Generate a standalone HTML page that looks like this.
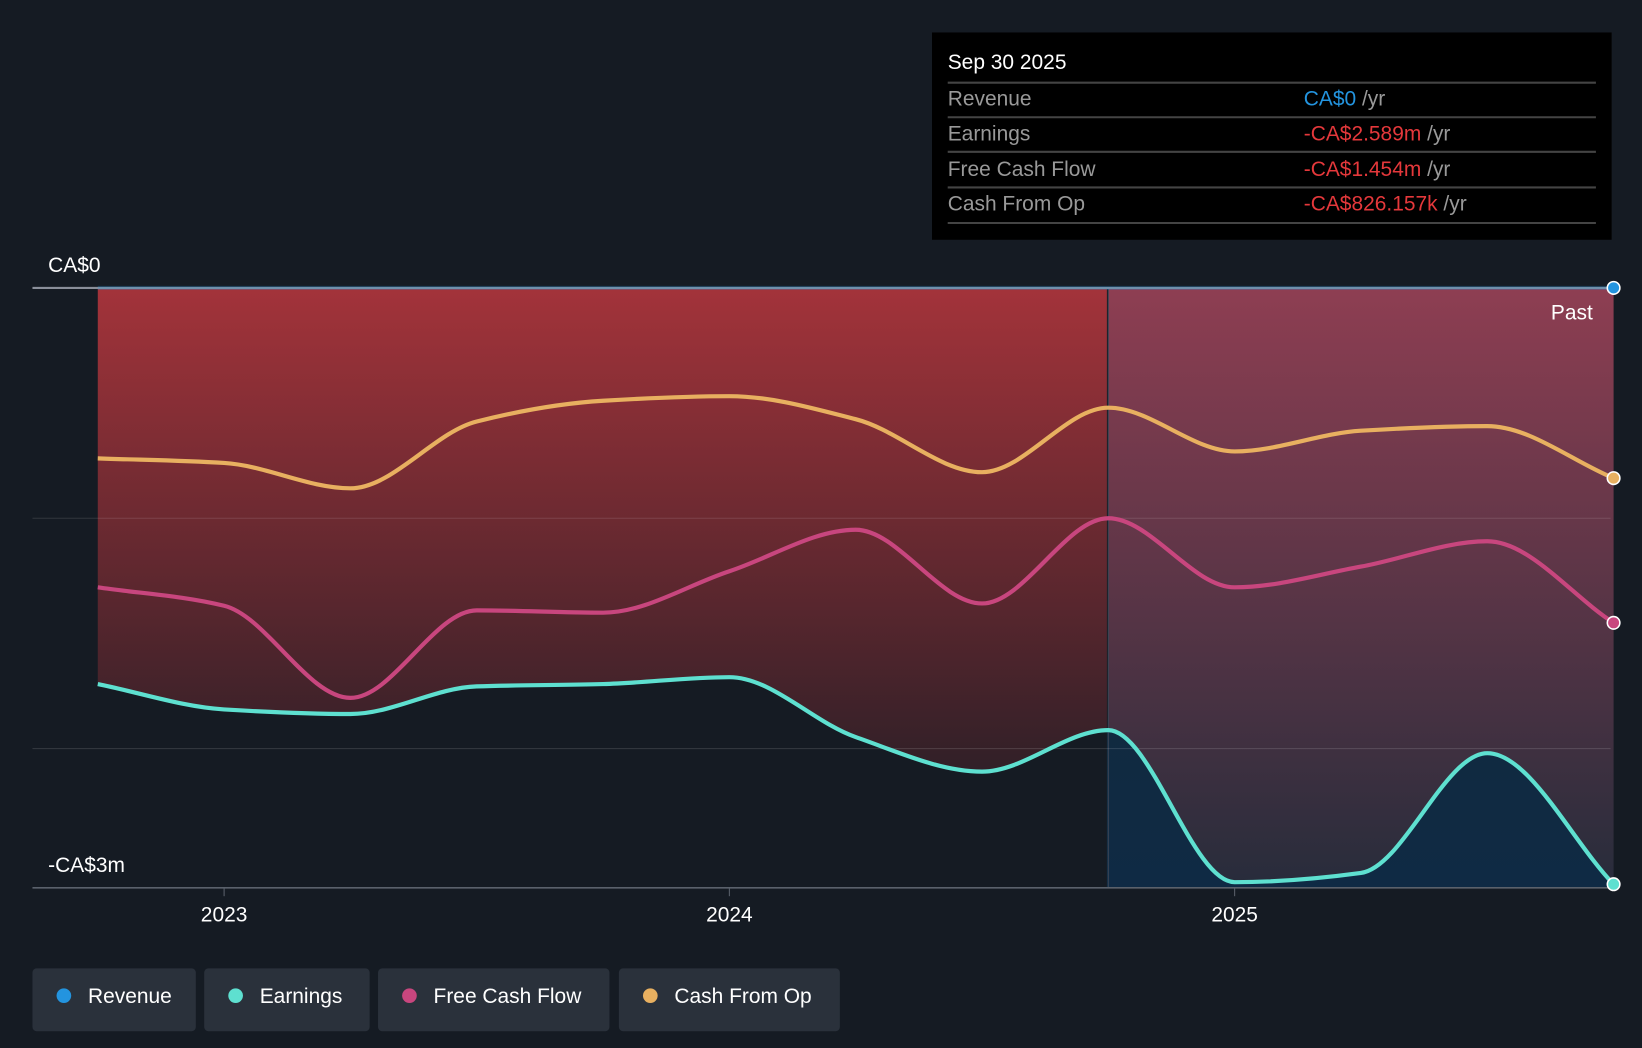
<!DOCTYPE html>
<html><head><meta charset="utf-8"><style>
html,body{margin:0;padding:0;background:#151b23;width:1642px;height:1048px;overflow:hidden}
svg{display:block;font-family:"Liberation Sans",sans-serif}
</style></head><body>
<svg id="chart" width="1642" height="1048" viewBox="0 0 1568 1001" preserveAspectRatio="none">
<defs>
<linearGradient id="redg" gradientUnits="userSpaceOnUse" x1="0" y1="275" x2="0" y2="848">
<stop offset="0" stop-color="#a3333a" stop-opacity="1"/>
<stop offset="1" stop-color="#a3333a" stop-opacity="0.0"/>
</linearGradient>
<linearGradient id="purg" gradientUnits="userSpaceOnUse" x1="0" y1="275" x2="0" y2="848">
<stop offset="0" stop-color="#8e3e52" stop-opacity="1"/>
<stop offset="1" stop-color="#272c3b" stop-opacity="1"/>
</linearGradient>
<linearGradient id="blueg" gradientUnits="userSpaceOnUse" x1="0" y1="690" x2="0" y2="848">
<stop offset="0" stop-color="#112a40" stop-opacity="1"/>
<stop offset="1" stop-color="#0f2a44" stop-opacity="1"/>
</linearGradient>
<clipPath id="leftclip"><rect x="0" y="270" width="1057" height="580"/></clipPath>
<clipPath id="pastclip"><rect x="1057" y="270" width="480" height="580"/></clipPath>
</defs>
<rect x="0" y="0" width="1568" height="1001" fill="#151b23"/>
<g id="plot"></g>
<g id="tooltip">
<rect x="890" y="31" width="649" height="198" fill="#000"/>
<text x="905" y="66" fill="#fff" font-size="20">Sep 30 2025</text>
<line x1="905" y1="79" x2="1524" y2="79" stroke="#444" stroke-width="2"/>
<text x="905" y="101" fill="#999" font-size="20">Revenue</text>
<text x="1245" y="101" font-size="20"><tspan fill="#2394df">CA$0</tspan><tspan fill="#999"> /yr</tspan></text>
<line x1="905" y1="112" x2="1524" y2="112" stroke="#444" stroke-width="2"/>
<text x="905" y="134" fill="#999" font-size="20">Earnings</text>
<text x="1245" y="134" font-size="20"><tspan fill="#e5383b">-CA$2.589m</tspan><tspan fill="#999"> /yr</tspan></text>
<line x1="905" y1="145" x2="1524" y2="145" stroke="#444" stroke-width="2"/>
<text x="905" y="168" fill="#999" font-size="20">Free Cash Flow</text>
<text x="1245" y="168" font-size="20"><tspan fill="#e5383b">-CA$1.454m</tspan><tspan fill="#999"> /yr</tspan></text>
<line x1="905" y1="179" x2="1524" y2="179" stroke="#444" stroke-width="2"/>
<text x="905" y="201" fill="#999" font-size="20">Cash From Op</text>
<text x="1245" y="201" font-size="20"><tspan fill="#e5383b">-CA$826.157k</tspan><tspan fill="#999"> /yr</tspan></text>
<line x1="905" y1="213" x2="1524" y2="213" stroke="#444" stroke-width="2"/>
</g>
<g id="legend"></g>
</svg>
<script>
const dates=[2022.75,2023.0,2023.25,2023.5,2023.75,2024.0,2024.25,2024.5,2024.75,2025.0,2025.25,2025.5,2025.75];
const revenue=[0,0,0,0,0,0,0,0,0,0,0,0,0];
const earnings=[-1.72,-1.83,-1.85,-1.73,-1.72,-1.69,-1.95,-2.10,-1.92,-2.58,-2.54,-2.02,-2.589];
const fcf=[-1.30,-1.38,-1.78,-1.40,-1.41,-1.23,-1.05,-1.37,-1.00,-1.30,-1.21,-1.10,-1.454];
const cfo=[-0.74,-0.76,-0.87,-0.58,-0.49,-0.47,-0.57,-0.80,-0.52,-0.71,-0.62,-0.60,-0.826];
const yTicks=[0,-1,-2];
const xTicks=[2023,2024,2025];
const pastStart=2024.75;

const NS="http://www.w3.org/2000/svg";
const X=d=>214+(d-2023)*482.5;
const Y=v=>275-v*220;
const plot=document.getElementById('plot');
function mk(tag,attrs,parent){const e=document.createElementNS(NS,tag);for(const k in attrs)e.setAttribute(k,attrs[k]);(parent||plot).appendChild(e);return e;}
function path(vals){
  const p=dates.map((d,i)=>[X(d),Y(vals[i])]);
  const n=p.length,dx=[],sl=[],m=[];
  for(let i=0;i<n-1;i++){dx[i]=p[i+1][0]-p[i][0];sl[i]=(p[i+1][1]-p[i][1])/dx[i];}
  m[0]=sl[0];m[n-1]=sl[n-2];
  for(let i=1;i<n-1;i++){m[i]=(sl[i-1]*sl[i]<=0)?0:3*(dx[i-1]+dx[i])/((2*dx[i]+dx[i-1])/sl[i-1]+(dx[i]+2*dx[i-1])/sl[i]);}
  let s=`M${p[0][0]},${p[0][1]}`;
  for(let i=0;i<n-1;i++){const h=dx[i]/3;
    s+=` C${p[i][0]+h},${p[i][1]+m[i]*h} ${p[i+1][0]-h},${p[i+1][1]-m[i+1]*h} ${p[i+1][0]},${p[i+1][1]}`;}
  return s;
}
const x0=X(dates[0]),x1=X(dates[dates.length-1]);
const ep=path(earnings);
const area=mk('path',{d:ep+` L${x1},${Y(0)} L${x0},${Y(0)} Z`,fill:'url(#redg)','clip-path':'url(#leftclip)'});


const area2=mk('path',{d:`M${X(pastStart)},${Y(0)} L${x1},${Y(0)} L${x1},848 L${X(pastStart)},848 Z`,fill:'url(#purg)'});


const ba=mk('path',{d:ep+` L${x1},848 L${x0},848 Z`,fill:'url(#blueg)','clip-path':'url(#pastclip)'});


mk('line',{x1:X(pastStart),y1:Y(0),x2:X(pastStart),y2:848,stroke:'#3a4555','stroke-width':1});
const pt=mk('text',{x:1521,y:305,fill:'#fff','font-size':20,'text-anchor':'end'});pt.textContent='Past';


yTicks.forEach(v=>{const g=mk('line',{x1:31,x2:1538,y1:Y(v),y2:Y(v),stroke:v===0?'#8a8f9a':'#ffffff','stroke-opacity':v===0?1:0.12,'stroke-width':v===0?2:1});

});
mk('line',{x1:31,x2:1538,y1:848,y2:848,stroke:'#5a616b','stroke-width':1.5});
const yl0=mk('text',{x:46,y:260,fill:'#fff','font-size':20});yl0.textContent='CA$0';


const yl1=mk('text',{x:46,y:833,fill:'#fff','font-size':20});yl1.textContent='-CA$3m';


xTicks.forEach(t=>{mk('line',{x1:X(t),x2:X(t),y1:848,y2:856,stroke:'#5a616b'});
const tx=mk('text',{x:X(t),y:880,fill:'#fff','font-size':20,'text-anchor':'middle'});tx.textContent=t;

});
const series=[['revenue-line',revenue,'#2394df',0.25],['cash-from-op-line',cfo,'#e8b060',1],['free-cash-flow-line',fcf,'#c8467e',1],['earnings-line',earnings,'#5ee0d0',1]];
series.forEach(([n,v,c,o])=>{
  const l=mk('path',{d:path(v),fill:'none',stroke:c,'stroke-width':4,'stroke-opacity':o});
  
  
  const dt=mk('circle',{cx:x1,cy:Y(v[v.length-1]),r:6,fill:c,stroke:'#fff','stroke-width':1.5});
  
  
});
const lg=document.getElementById('legend');
const items=[['Revenue','#2394df',31,156],['Earnings','#5ee0d0',195,158],['Free Cash Flow','#c8467e',361,221],['Cash From Op','#e8b060',591,211]];
items.forEach(([t,c,x,w])=>{
  const g=mk('g',{},lg);
  
  
  mk('rect',{x:x,y:925,width:w,height:60,rx:4,fill:'#2a313b'},g);
  mk('circle',{cx:x+30,cy:951,r:7,fill:c},g);
  const tt=mk('text',{x:x+53,y:958,fill:'#fff','font-size':20},g);tt.textContent=t;
});
</script>
</body></html>
